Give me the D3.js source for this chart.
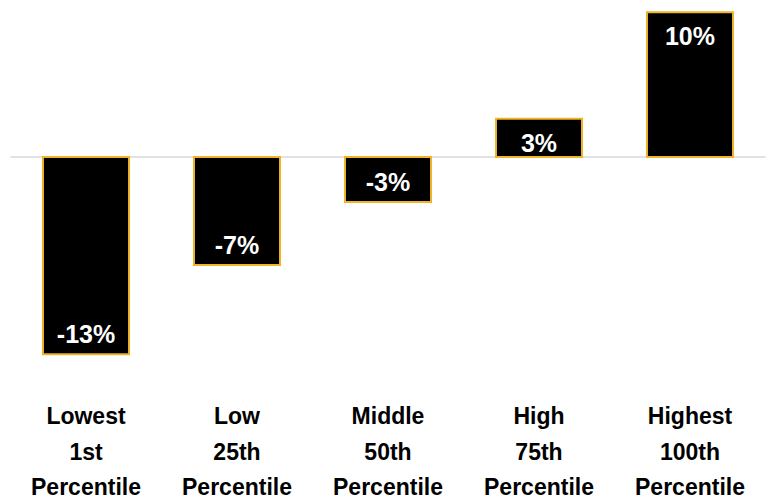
<!DOCTYPE html>
<html>
<head>
<meta charset="utf-8">
<script src="https://cdn.jsdelivr.net/npm/d3@7"></script>
<style>
  html, body { margin: 0; padding: 0; background: #ffffff; }
  svg { display: block; }
</style>
</head>
<body>
<svg id="chart" width="772" height="501"></svg>
<script>
// ---- Data ----
const categories = ["Lowest", "Low", "Middle", "High", "Highest"];
const categorySub = ["1st", "25th", "50th", "75th", "100th"];
const categoryTail = ["Percentile", "Percentile", "Percentile", "Percentile", "Percentile"];
const values = [-13.15, -7.2, -3.0, 2.55, 9.65];
const yDomain = [-14, 10];

// ---- Layout ----
const width = 772, height = 501;
const svg = d3.select("#chart");

const x = d3.scaleBand()
  .domain(categories)
  .range([10.5, 765.5])
  .paddingInner(0.43)
  .paddingOuter(0.215);

const y = d3.scaleLinear()
  .domain(yDomain)
  .range([367, 7]);

const data = categories.map((c, i) => ({ cat: c, sub: categorySub[i], tail: categoryTail[i], value: values[i] }));

// zero line
svg.append("line")
  .attr("x1", x.range()[0])
  .attr("x2", x.range()[1])
  .attr("y1", y(0))
  .attr("y2", y(0))
  .attr("stroke", "#d9d9d9")
  .attr("stroke-width", 1.5);

// bars
svg.append("g").selectAll("rect")
  .data(data)
  .join("rect")
  .attr("x", d => x(d.cat))
  .attr("width", x.bandwidth())
  .attr("y", d => y(Math.max(0, d.value)))
  .attr("height", d => Math.abs(y(d.value) - y(0)))
  .attr("fill", "#000000")
  .attr("stroke", "#F0B429")
  .attr("stroke-width", 2);

// value labels (inside end)
const fmt = v => Math.round(v) + "%";
svg.append("g").selectAll("text")
  .data(data)
  .join("text")
  .attr("x", d => x(d.cat) + x.bandwidth() / 2)
  .attr("y", d => d.value >= 0 ? y(d.value) + 33 : y(d.value) - 11)
  .attr("text-anchor", "middle")
  .attr("font-family", "'Liberation Sans', Arial, sans-serif")
  .attr("font-weight", "bold")
  .attr("font-size", 25)
  .attr("fill", "#ffffff")
  .text(d => fmt(d.value));

// category labels
const lab = svg.append("g").selectAll("text")
  .data(data)
  .join("text")
  .attr("text-anchor", "middle")
  .attr("font-family", "'Liberation Sans', Arial, sans-serif")
  .attr("font-weight", "bold")
  .attr("font-size", 23)
  .attr("fill", "#000000");

lab.append("tspan")
  .attr("x", d => x(d.cat) + x.bandwidth() / 2)
  .attr("y", 424)
  .text(d => d.cat);
lab.append("tspan")
  .attr("x", d => x(d.cat) + x.bandwidth() / 2)
  .attr("y", 460)
  .text(d => d.sub);
lab.append("tspan")
  .attr("x", d => x(d.cat) + x.bandwidth() / 2)
  .attr("y", 495)
  .text(d => d.tail);
</script>
</body>
</html>
